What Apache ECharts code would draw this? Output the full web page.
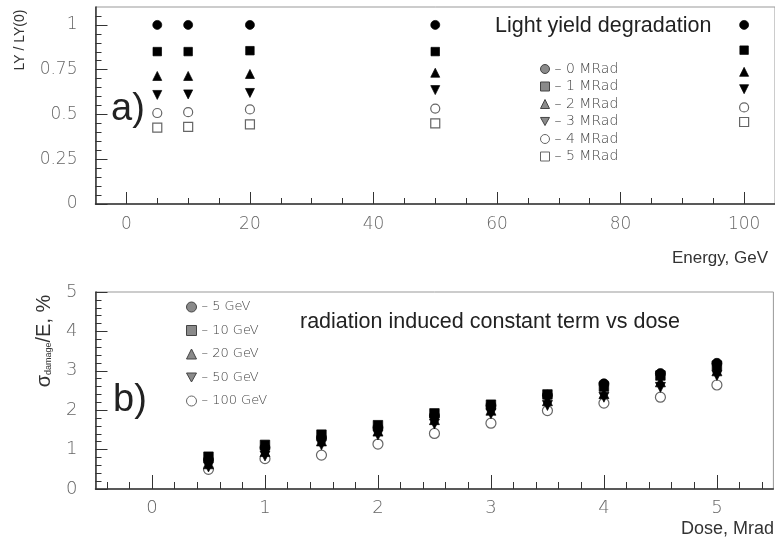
<!DOCTYPE html>
<html><head><meta charset="utf-8">
<script src="https://cdn.jsdelivr.net/npm/echarts@6/dist/echarts.min.js"></script>
<style>html,body{margin:0;padding:0;background:#fff}#c{width:775px;height:540px}</style>
</head><body><div id="c"></div>
<script>
// ---- Panel a) : light yield degradation ----
const energies = [5, 10, 20, 50, 100];
const ly0 = [1.0, 1.0, 1.0, 1.0, 1.0];
const ly1 = [0.851, 0.851, 0.856, 0.851, 0.859];
const ly2 = [0.715, 0.715, 0.726, 0.733, 0.738];
const ly3 = [0.609, 0.612, 0.620, 0.636, 0.641];
const ly4 = [0.508, 0.513, 0.528, 0.533, 0.539];
const ly5 = [0.426, 0.431, 0.445, 0.450, 0.458];
const lyNames = ['0 MRad', '1 MRad', '2 MRad', '3 MRad', '4 MRad', '5 MRad'];

// ---- Panel b) : radiation induced constant term vs dose ----
const doses = [0.5, 1, 1.5, 2, 2.5, 3, 3.5, 4, 4.5, 5];
const s5   = [0.74, 1.05, 1.30, 1.56, 1.86, 2.12, 2.38, 2.67, 2.93, 3.19];
const s10  = [0.82, 1.12, 1.38, 1.62, 1.92, 2.14, 2.40, 2.60, 2.88, 3.13];
const s20  = [0.64, 0.95, 1.22, 1.47, 1.76, 2.00, 2.24, 2.42, 2.72, 3.00];
const s50  = [0.56, 0.84, 1.12, 1.37, 1.65, 1.91, 2.12, 2.33, 2.58, 2.88];
const s100 = [0.50, 0.77, 0.86, 1.14, 1.41, 1.67, 1.99, 2.18, 2.33, 2.64];
const doseNames = ['5 GeV', '10 GeV', '20 GeV', '50 GeV', '100 GeV'];

// ---- tick labels ----
const energyTicks = [0, 20, 40, 60, 80, 100];
const lyTicks = [0, 0.25, 0.5, 0.75, 1];
const doseTicks = [0, 1, 2, 3, 4, 5];
const sigmaTicks = [0, 1, 2, 3, 4, 5];

function minorList(from, to, step, majorStep) {
  const out = [];
  const n = Math.round((to - from) / step);
  for (let i = 0; i <= n; i++) {
    const v = Math.round((from + i * step) * 1000) / 1000;
    const r = v / majorStep;
    if (Math.abs(r - Math.round(r)) > 1e-6) out.push(v);
  }
  return out;
}
const energyMinor = minorList(5, 95, 5, 20);
const lyMinor = minorList(0.05, 1.05, 0.05, 0.25);
const doseMinor = minorList(-0.4, 5.4, 0.2, 1);
const sigmaMinor = minorList(0.2, 4.8, 0.2, 1);

const TRI_DOWN = 'path://M0,0L10,0L5,9Z';
const labelFont = () => ({ fontFamily: 'DejaVu Sans', fontWeight: 300, color: '#666' });
const axisLineStyle = () => ({ color: '#333', width: 1.5 });
const tickStyle = () => ({ color: '#333', width: 1 });

function mainAxis(gridIndex, min, max, ticks, tickLen, fontSize, margin, extra) {
  return Object.assign({
    gridIndex, type: 'value', min, max,
    axisLine: { show: true, onZero: false, lineStyle: axisLineStyle() },
    axisTick: { show: true, inside: true, length: tickLen, customValues: ticks, lineStyle: tickStyle() },
    axisLabel: Object.assign({ customValues: ticks, fontSize, margin, hideOverlap: false }, labelFont()),
    splitLine: { show: false }, minorTick: { show: false }
  }, extra);
}
function minorAxis(gridIndex, min, max, ticks, tickLen, extra) {
  return Object.assign({
    gridIndex, type: 'value', min, max,
    axisLine: { show: false, onZero: false },
    axisTick: { show: true, inside: true, length: tickLen, customValues: ticks, lineStyle: tickStyle() },
    axisLabel: { show: false },
    splitLine: { show: false }
  }, extra);
}

const filled = () => ({ color: '#000', opacity: 1, borderColor: '#000', borderWidth: 0.7 });
const openStyle = () => ({ color: '#fff', borderColor: '#666', borderWidth: 1.2, opacity: 1 });
const legFilled = () => ({ color: '#8a8a8a', borderColor: '#444', borderWidth: 1, opacity: 1 });
const legOpen = () => ({ color: '#fff', borderColor: '#666', borderWidth: 1, opacity: 1 });

function pts(xs, ys) { return xs.map((x, i) => [x, ys[i]]); }

const lySeriesDef = [
  [lyNames[0], ly0, 'circle', 9, filled, 3],
  [lyNames[1], ly1, 'rect', 8.5, filled, 3],
  [lyNames[2], ly2, 'triangle', 9, filled, 3],
  [lyNames[3], ly3, TRI_DOWN, 9, filled, 3],
  [lyNames[4], ly4, 'circle', 9, openStyle, 3],
  [lyNames[5], ly5, 'rect', 9, openStyle, 3]
];
const doseSeriesDef = [
  [doseNames[4], s100, 'circle', 10, openStyle, 2],
  [doseNames[3], s50, TRI_DOWN, 10, filled, 3],
  [doseNames[2], s20, 'triangle', 10, filled, 4],
  [doseNames[0], s5, 'circle', 10, filled, 5],
  [doseNames[1], s10, 'rect', 9.5, filled, 6]
];

const series = [];
lySeriesDef.forEach(d => series.push({
  type: 'scatter', name: d[0], xAxisIndex: 0, yAxisIndex: 0, z: d[5],
  data: pts(energies, d[1]), symbol: d[2], symbolSize: d[3], itemStyle: d[4](),
  emphasis: { disabled: true }
}));
doseSeriesDef.forEach(d => series.push({
  type: 'scatter', name: d[0], xAxisIndex: 2, yAxisIndex: 2, z: d[5],
  data: pts(doses, d[1]), symbol: d[2], symbolSize: d[3], itemStyle: d[4](),
  emphasis: { disabled: true }
}));

const option = {
  animation: false,
  backgroundColor: '#fff',
  title: [
    { text: 'Light yield degradation', left: 495, top: 15, padding: 0,
      textStyle: { fontSize: 21.5, fontWeight: 'normal', color: '#222', fontFamily: 'Liberation Sans' } },
    { text: 'radiation induced constant term vs dose', left: 300, top: 311, padding: 0,
      textStyle: { fontSize: 21.5, fontWeight: 'normal', color: '#222', fontFamily: 'Liberation Sans' } }
  ],
  grid: [
    { left: 95.5, right: -8, top: 7, height: 197, show: true, borderColor: '#999', borderWidth: 1, backgroundColor: 'transparent' },
    { left: 95.5, right: -6.4, top: 292, height: 197, show: true, borderColor: '#999', borderWidth: 1, backgroundColor: 'transparent' }
  ],
  xAxis: [
    mainAxis(0, -5, 105, energyTicks, 12, 17, 12, {
      position: 'bottom', name: 'Energy, GeV', nameLocation: 'end', nameGap: -7,
      nameTextStyle: { align: 'right', verticalAlign: 'top', padding: [46, 0, 0, 0], fontSize: 17, color: '#333', fontFamily: 'Liberation Sans' }
    }),
    minorAxis(0, -5, 105, energyMinor, 6, { position: 'bottom' }),
    mainAxis(1, -0.5, 5.5, doseTicks, 14, 18, 10, {
      position: 'bottom', name: 'Dose, Mrad', nameLocation: 'end', nameGap: 0.6,
      nameTextStyle: { align: 'right', verticalAlign: 'top', padding: [31, 0, 0, 0], fontSize: 18, color: '#333', fontFamily: 'Liberation Sans' }
    }),
    minorAxis(1, -0.5, 5.5, doseMinor, 7, { position: 'bottom' })
  ],
  yAxis: [
    mainAxis(0, 0, 1.1, lyTicks, 12, 17, 18, { position: 'left' }),
    minorAxis(0, 0, 1.1, lyMinor, 6, { position: 'left' }),
    mainAxis(1, 0, 5, sigmaTicks, 12, 18, 18, { position: 'left' }),
    minorAxis(1, 0, 5, sigmaMinor, 6, { position: 'left' })
  ],
  legend: [
    {
      orient: 'vertical', left: 540, top: 62, padding: 0,
      itemWidth: 9, itemHeight: 9, itemGap: 3.5,
      formatter: '– {name}',
      selectedMode: false,
      textStyle: { fontSize: 14, lineHeight: 14, color: '#444', fontFamily: 'DejaVu Sans', fontWeight: 300 },
      data: [
        { name: lyNames[0], icon: 'circle', itemStyle: legFilled() },
        { name: lyNames[1], icon: 'rect', itemStyle: legFilled() },
        { name: lyNames[2], icon: 'triangle', itemStyle: legFilled() },
        { name: lyNames[3], icon: TRI_DOWN, itemStyle: legFilled() },
        { name: lyNames[4], icon: 'circle', itemStyle: legOpen() },
        { name: lyNames[5], icon: 'rect', itemStyle: legOpen() }
      ]
    },
    {
      orient: 'vertical', left: 186, top: 300, padding: 0,
      itemWidth: 10, itemHeight: 10, itemGap: 9.5,
      formatter: '– {name}',
      selectedMode: false,
      textStyle: { fontSize: 13, lineHeight: 14, color: '#444', fontFamily: 'DejaVu Sans', fontWeight: 300 },
      data: [
        { name: doseNames[0], icon: 'circle', itemStyle: legFilled() },
        { name: doseNames[1], icon: 'rect', itemStyle: legFilled() },
        { name: doseNames[2], icon: 'triangle', itemStyle: legFilled() },
        { name: doseNames[3], icon: TRI_DOWN, itemStyle: legFilled() },
        { name: doseNames[4], icon: 'circle', itemStyle: legOpen() }
      ]
    }
  ],
  graphic: [
    { type: 'text', left: 111, top: 91, silent: true,
      style: { text: 'a)', fontSize: 38, fontFamily: 'Liberation Sans', fill: '#222' } },
    { type: 'text', left: 113, top: 382, silent: true,
      style: { text: 'b)', fontSize: 38, fontFamily: 'Liberation Sans', fill: '#222' } },
    { type: 'text', x: 20, y: 40, rotation: Math.PI / 2, silent: true,
      style: { text: 'LY / LY(0)', fontSize: 14, fontFamily: 'Liberation Sans', fill: '#333', align: 'center', verticalAlign: 'middle' } },
    { type: 'text', x: 44, y: 341, rotation: Math.PI / 2, silent: true,
      style: {
        text: '{a|σ}{b|damage}{a|/E, %}', align: 'center', verticalAlign: 'middle',
        rich: {
          a: { fontSize: 20, fontFamily: 'Liberation Sans', fill: '#333', lineHeight: 22 },
          b: { fontSize: 9, fontFamily: 'Liberation Sans', fill: '#333', lineHeight: 22, padding: [10, 0, 0, 0] }
        }
      } }
  ],
  series
};
echarts.init(document.getElementById('c'), null, { renderer: 'canvas' }).setOption(option);
</script></body></html>
